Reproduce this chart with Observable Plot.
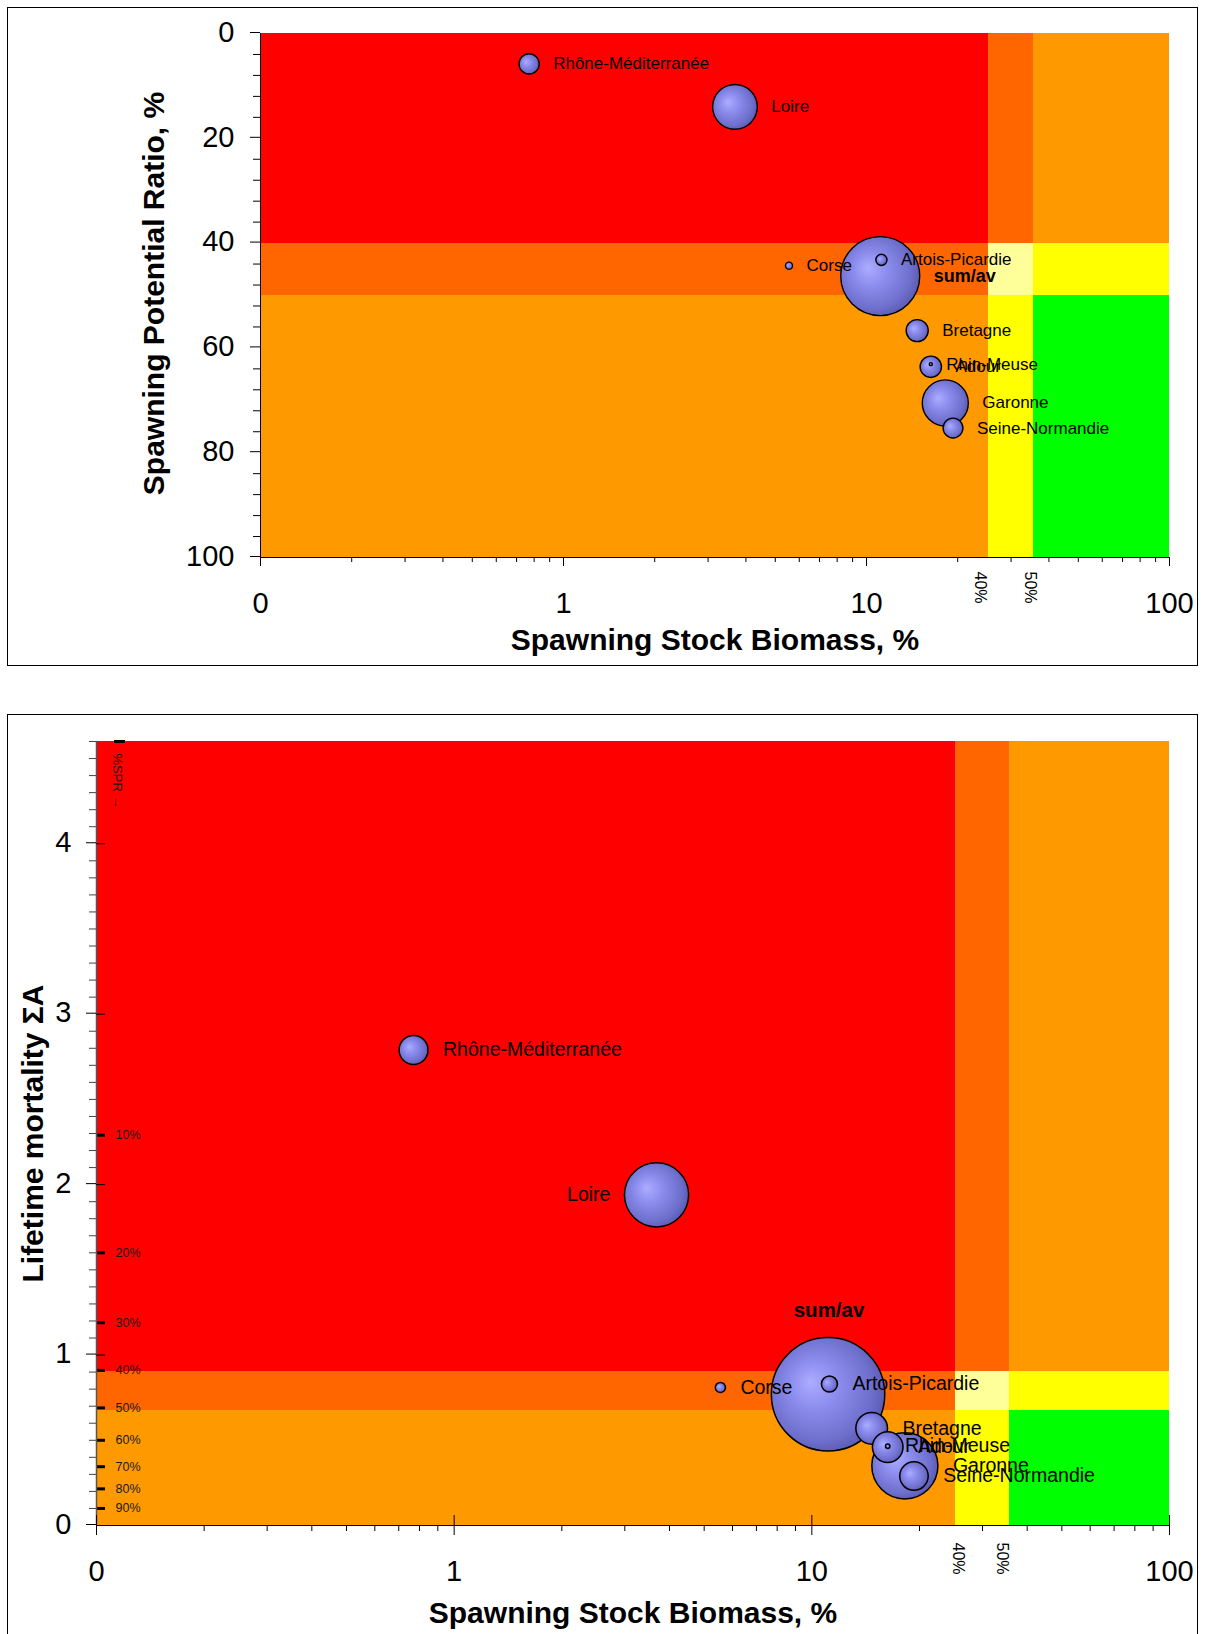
<!DOCTYPE html>
<html><head><meta charset="utf-8">
<script src="https://cdn.jsdelivr.net/npm/d3@7"></script>
<script src="https://cdn.jsdelivr.net/npm/@observablehq/plot@0.6"></script>
<style>
html,body{margin:0;padding:0;background:#fff;}
#page{position:relative;width:1209px;height:1634px;overflow:hidden;font-family:'Liberation Sans',Arial,sans-serif;}
.panel{position:absolute;left:0;}
.frame{position:absolute;border:1.5px solid #000;box-sizing:border-box;pointer-events:none;}
</style></head>
<body>
<div id="page">
<svg width="0" height="0" style="position:absolute;left:0;top:0">
<defs>
<radialGradient id="bubblegrad" cx="0.45" cy="0.47" r="0.62" fx="0.34" fy="0.39">
<stop offset="0" stop-color="#acacff"/>
<stop offset="0.35" stop-color="#8c8cee"/>
<stop offset="0.75" stop-color="#6e6ecc"/>
<stop offset="1" stop-color="#5252a6"/>
</radialGradient>
</defs></svg>
<div id="top" class="panel" style="top:0"></div>
<div id="bottom" class="panel" style="top:700px"></div>
<div class="frame" style="left:6.5px;top:6.5px;width:1191px;height:659px"></div>
<div class="frame" style="left:6.5px;top:714px;width:1191px;height:940px"></div>
</div>
<script>
// ---- data ----
const regions = ["Rhône-Méditerranée","Loire","Corse","Artois-Picardie","sum/av","Bretagne","Rhin-Meuse","Adour","Garonne","Seine-Normandie"];
const ssbPct = [0.77, 3.68, 5.55, 11.2, 11.1, 14.7, 16.3, 16.3, 18.2, 19.3];
const sprPct = [5.8, 14.0, 44.3, 43.2, 46.3, 56.7, 63.1, 63.6, 70.5, 75.3];
const lifetimeMortality = [2.79, 1.94, 0.81, 0.83, 0.77, 0.57, 0.465, 0.46, 0.35, 0.29];
const bubbleSize = [6.5, 32, 0.8, 2.0, 100, 7.8, 0.15, 7.3, 34, 6.3];

const ssbLimits = [25.2, 35.6];          // "40%" and "50%" markers on SSB axis
const ssbLimitLabels = ["40%", "50%"];
const sprLimits = [40, 50];
const mortalityLimits = [0.905, 0.675];
const sprTickValues = [2.29, 1.60, 1.19, 0.91, 0.69, 0.50, 0.345, 0.215, 0.10];
const sprTickLabels = ["10%","20%","30%","40%","50%","60%","70%","80%","90%"];
const zoneColors = [
  ["#ff0000","#ff6600","#ff9900"],
  ["#ff6600","#ffff99","#ffff00"],
  ["#ff9900","#ffff00","#00ff00"]
];
const xMajor = [0.1, 1, 10, 100];
const xMinor = [0.2,0.3,0.4,0.5,0.6,0.7,0.8,0.9,2,3,4,5,6,7,8,9,20,30,40,50,60,70,80,90];
const sprMajor = [0, 20, 40, 60, 80, 100];
const mortMajor = [0, 1, 2, 3, 4];

// ---- helpers ----
const rows = regions.map((name, i) => ({name, ssb: ssbPct[i], spr: sprPct[i], mort: lifetimeMortality[i], size: bubbleSize[i]}))
  .sort((a, b) => b.size - a.size);
const xFmt = d => d < 1 ? "0" : d3.format("d")(d);
function bands(xEdges, yEdges) {
  const out = [];
  for (let i = 0; i < 3; i++) for (let j = 0; j < 3; j++)
    out.push({x1: xEdges[j], x2: xEdges[j+1], y1: yEdges[i], y2: yEdges[i+1], fill: zoneColors[i][j]});
  return out;
}
function labelMarks(yKey, rMax, fs, fsBold, gap, special) {
  return rows.map(d => {
    const r = Math.sqrt(d.size / 100) * rMax;
    const bold = d.name === "sum/av";
    let o = {x: "ssb", y: yKey, text: "name", fontSize: bold ? fsBold : fs, fontWeight: bold ? "bold" : "normal",
             textAnchor: "start", lineAnchor: "middle", dx: r + gap, fill: "#000"};
    if (special[d.name]) o = {...o, ...special[d.name](r)};
    return Plot.text([d], o);
  });
}
const style = {fontFamily: "'Liberation Sans', Arial, sans-serif", fontSize: "28px", background: "white", color: "#000"};
const limitText = (k, dx, dy) => Plot.text([k], {x: i => ssbLimits[i], frameAnchor: "bottom", text: i => ssbLimitLabels[i],
  rotate: 90, textAnchor: "start", lineAnchor: "middle", dx, dy, fontSize: 16});

// ---- top panel ----
const topRMax = 39.5;
const topPlot = Plot.plot({
  width: 1209, height: 665, marginTop: 33, marginBottom: 108, marginLeft: 260, marginRight: 40,
  style,
  x: {type: "log", domain: [0.1, 100], label: null},
  y: {domain: [0, 100], reverse: true, label: null},
  r: {type: "sqrt", domain: [0, 100], range: [0, topRMax]},
  color: {type: "identity"},
  marks: [
    Plot.rect(bands([0.1, ...ssbLimits, 100], [0, ...sprLimits, 100]), {x1: "x1", x2: "x2", y1: "y1", y2: "y2", fill: "fill", shapeRendering: "crispEdges"}),
    Plot.dot(rows, {x: "ssb", y: "spr", r: "size", fill: "url(#bubblegrad)", stroke: "#000", strokeWidth: 1.4, sort: null}),
    ...labelMarks("spr", topRMax, 17, 18, 14, {}),
    Plot.ruleX([0.1], {stroke: "#000"}),
    Plot.ruleY([100], {stroke: "#000"}),
    Plot.axisY(sprMajor, {tickSize: 10, tickPadding: 16, fontSize: 29, dy: -1, tickFormat: d3.format("d"), label: null}),
    Plot.axisY(d3.range(0, 101, 4).filter(v => v % 20), {tickSize: 7, tickFormat: () => "", label: null}),
    Plot.axisX(xMajor, {tickSize: 9, tickPadding: 26, fontSize: 29, tickFormat: xFmt, label: null}),
    Plot.axisX(xMinor, {tickSize: 5, tickFormat: () => "", label: null}),
    limitText(0, -8, 14),
    limitText(1, -3.5, 14),
    Plot.text(["Spawning Stock Biomass, %"], {frameAnchor: "bottom", textAnchor: "middle", lineAnchor: "middle", dy: 83, fontSize: 30, fontWeight: "bold"}),
    Plot.text(["Spawning Potential Ratio, %"], {frameAnchor: "left", textAnchor: "middle", lineAnchor: "middle", dx: -106, dy: -2, rotate: -90, fontSize: 30, fontWeight: "bold"})
  ]
});
document.getElementById("top").appendChild(topPlot);

// ---- bottom panel ----
const botRMax = 56.7;
const plotW = 1209 - 96 - 40, plotH = 934 - 41 - 109;
const botPlot = Plot.plot({
  width: 1209, height: 934, marginTop: 41, marginBottom: 109, marginLeft: 96, marginRight: 40,
  style,
  x: {type: "log", domain: [0.1, 100], label: null},
  y: {domain: [0, 4.6], label: null},
  r: {type: "sqrt", domain: [0, 100], range: [0, botRMax]},
  color: {type: "identity"},
  marks: [
    Plot.rect(bands([0.1, ...ssbLimits, 100], [4.6, ...mortalityLimits, 0]), {x1: "x1", x2: "x2", y1: "y1", y2: "y2", fill: "fill", shapeRendering: "crispEdges"}),
    Plot.dot(rows, {x: "ssb", y: "mort", r: "size", fill: "url(#bubblegrad)", stroke: "#000", strokeWidth: 1.5, sort: null}),
    ...labelMarks("mort", botRMax, 19.5, 20.5, 15, {
      "Loire": r => ({textAnchor: "end", dx: -(r + 14)}),
      "sum/av": r => ({textAnchor: "middle", dx: 1, dy: -(r + 27)})
    }),
    // secondary %SPR scale
    Plot.tickY(sprTickValues, {y: d => d, insetRight: plotW - 9, strokeWidth: 3, stroke: "#000"}),
    Plot.text(sprTickValues, {y: d => d, frameAnchor: "left", text: (d, i) => sprTickLabels[i], dx: 19, textAnchor: "start", lineAnchor: "middle", fontSize: 12.5, fill: "#1a1a1a"}),
    Plot.tickY([4.6], {y: d => d, insetLeft: 18, insetRight: plotW - 29, strokeWidth: 3, stroke: "#000"}),
    Plot.text(["%SPR →"], {frameAnchor: "top-left", dx: 21, dy: 12, rotate: 90, textAnchor: "start", lineAnchor: "middle", fontSize: 13, fill: "#1a1a1a"}),
    Plot.ruleX([0.1], {stroke: "#555", strokeWidth: 1.5}),
    Plot.ruleY([0], {stroke: "#000"}),
    Plot.axisY(mortMajor, {tickSize: 10, tickPadding: 15, fontSize: 29, dy: -1, tickFormat: d3.format("d"), label: null}),
    Plot.tickY(mortMajor, {y: d => d, insetRight: plotW - 9, stroke: "#000"}),
    Plot.axisY(d3.range(0, 47).map(v => v / 10).filter(v => Math.abs(v - Math.round(v)) > 1e-9), {tickSize: 7, tickFormat: () => "", stroke: "#444", label: null}),
    Plot.axisX(xMajor, {tickSize: 10, tickPadding: 25, fontSize: 29, tickFormat: xFmt, label: null}),
    Plot.tickX(xMajor, {x: d => d, insetTop: plotH - 10, stroke: "#000"}),
    Plot.axisX(xMinor, {tickSize: 6, tickFormat: () => "", label: null}),
    limitText(0, 2.5, 17),
    limitText(1, -6.5, 17),
    Plot.text(["Spawning Stock Biomass, %"], {frameAnchor: "bottom", textAnchor: "middle", lineAnchor: "middle", dy: 88, fontSize: 30, fontWeight: "bold"}),
    Plot.text(["Lifetime mortality ΣA"], {frameAnchor: "left", textAnchor: "middle", lineAnchor: "middle", dx: -63.5, rotate: -90, fontSize: 30, fontWeight: "bold"})
  ]
});
document.getElementById("bottom").appendChild(botPlot);
</script>
</body></html>
